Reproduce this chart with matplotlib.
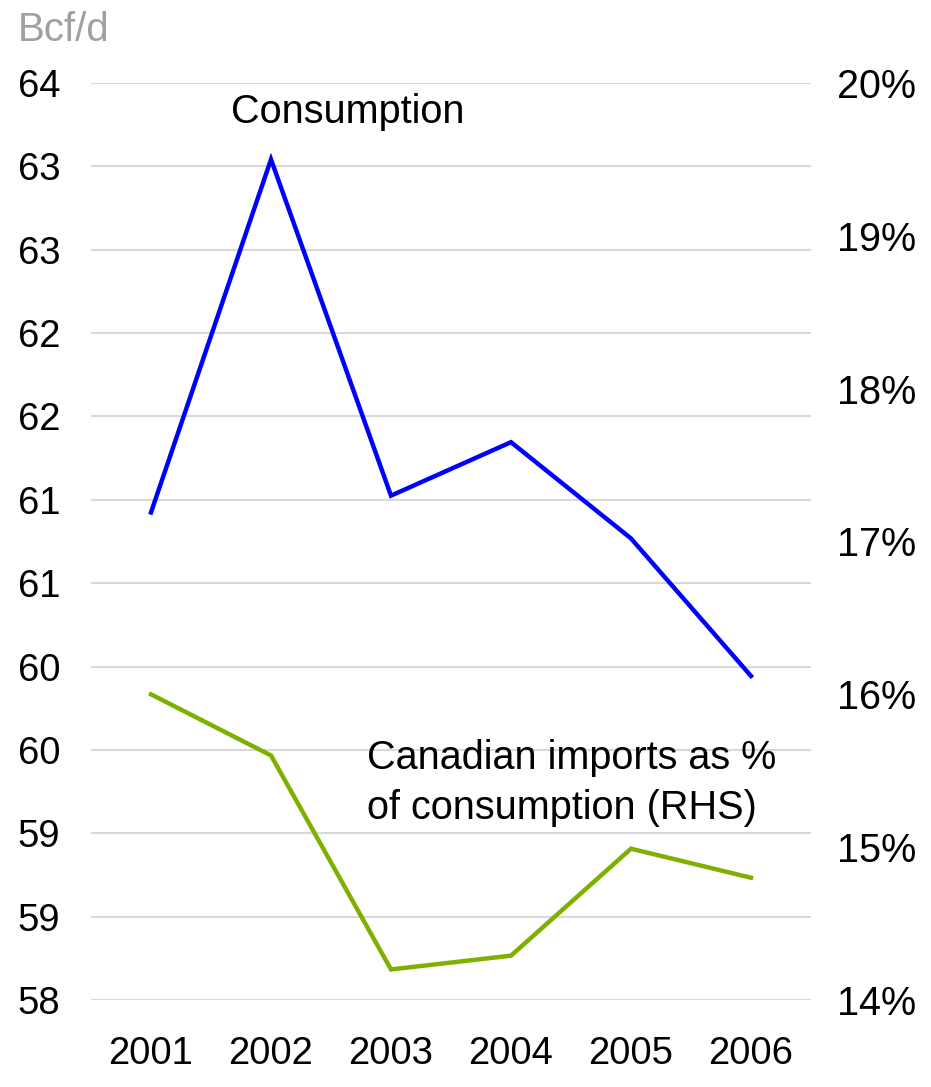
import matplotlib
matplotlib.use("Agg")
import matplotlib.pyplot as plt
from matplotlib.ticker import FixedLocator, FuncFormatter

plt.rcParams['font.family'] = ['Liberation Sans', 'DejaVu Sans']

years = ["2001", "2002", "2003", "2004", "2005", "2006"]
consumption = [61.19, 63.50, 61.30, 61.65, 61.02, 60.12]
canadian_share = [16.00, 15.60, 14.20, 14.29, 14.99, 14.80]

left_ticks = [58 + i * 6 / 11 for i in range(12)]
right_ticks = [14, 15, 16, 17, 18, 19, 20]

W, H = 931, 1087
fig = plt.figure(figsize=(W / 100, H / 100), dpi=100)
ax = fig.add_axes([91 / W, 87 / H, (811 - 91) / W, (1000 - 83) / H])
ax2 = ax.twinx()

x = list(range(len(years)))
ax.plot(x, consumption, color="#0000FF", lw=3.2, solid_joinstyle="miter", zorder=3)
ax2.plot(x, canadian_share, color="#7FB000", lw=3.2, solid_joinstyle="miter", zorder=3)

ax.set_xlim(-0.5, 5.5)
ax.set_ylim(58, 64)
ax2.set_ylim(14, 20)

ax.yaxis.set_major_locator(FixedLocator(left_ticks))
ax.yaxis.set_major_formatter(FuncFormatter(lambda v, p: f"{v:.0f}"))
ax2.yaxis.set_major_locator(FixedLocator(right_ticks))
ax2.yaxis.set_major_formatter(FuncFormatter(lambda v, p: f"{v:.0f}%"))
ax.set_xticks(x)
ax.set_xticklabels(years)

ax.grid(axis="y", color="#D9D9D9", lw=1.5)
ax.set_axisbelow(True)
for a in (ax, ax2):
    for s in a.spines.values():
        s.set_visible(False)
ax.tick_params(axis="y", length=0, labelsize=27.5, pad=22)
ax.tick_params(axis="x", length=0, labelsize=27.5, pad=26)
ax2.tick_params(axis="y", length=0, labelsize=28.5, pad=19)

ax.text(0.667, 63.81, "Consumption", fontsize=28.5, ha="left", va="center")
ax.text(1.8, 59.42, "Canadian imports as %\nof consumption (RHS)", fontsize=28.5,
        ha="left", va="center", linespacing=1.4)
fig.text(18 / W, 1 - 30 / H, "Bcf/d", fontsize=29, color="#A0A0A0", ha="left", va="center")

fig.savefig("out.png", dpi=100)
